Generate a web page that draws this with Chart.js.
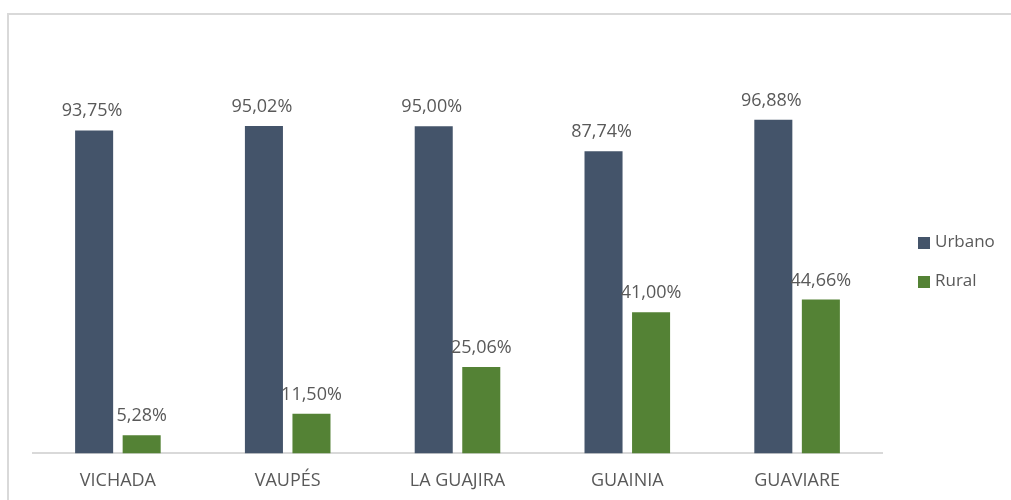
<!DOCTYPE html>
<html lang="es">
<head>
  <meta charset="UTF-8">
  <title>Urbano / Rural</title>
  <script src="https://cdn.jsdelivr.net/npm/chart.js"></script>
  <style>
    html, body {
      margin: 0;
      padding: 0;
      background: #fff;
      overflow: hidden;
    }
    .frame {
      position: absolute;
      left: 7px;
      top: 13px;
      width: 1020px;
      height: 520px;
      border: 2px solid #d9d9d9;
    }
    .wrap {
      position: absolute;
      left: 0;
      top: 0;
      width: 1011px;
      height: 500px;
      overflow: hidden;
    }
    #chart {
      display: block;
      width: 1011px;
      height: 509px;
    }
  </style>
</head>
<body>
  <div class="frame"></div>
  <div class="wrap"><canvas id="chart" width="1011" height="509"></canvas></div>

  <script>
    const departamentos = ['VICHADA', 'VAUPÉS', 'LA GUAJIRA', 'GUAINIA', 'GUAVIARE'];
    const urbano = [93.75, 95.02, 95.00, 87.74, 96.88];
    const rural = [5.28, 11.50, 25.06, 41.00, 44.66];
    const seriesNames = ['Urbano', 'Rural'];
    const seriesColors = ['#44546a', '#548235'];

    const fontFam = "'Open Sans', 'Liberation Sans', sans-serif";
    const textGray = '#595959';

    function fmt(v) {
      return v.toFixed(2).replace('.', ',') + '%';
    }

    // etiquetas encima de cada barra
    const valueLabels = {
      id: 'valueLabels',
      afterDatasetsDraw(chart) {
        const ctx = chart.ctx;
        ctx.save();
        ctx.font = '18px ' + fontFam;
        ctx.fillStyle = textGray;
        ctx.textAlign = 'center';
        ctx.textBaseline = 'alphabetic';
        chart.data.datasets.forEach((ds, i) => {
          chart.getDatasetMeta(i).data.forEach((bar, j) => {
            ctx.fillText(fmt(ds.data[j]), bar.x - (i === 0 ? 2 : 0), bar.y - 14);
          });
        });
        ctx.restore();
      }
    };

    // leyenda a la derecha
    const sideLegend = {
      id: 'sideLegend',
      afterDraw(chart) {
        const ctx = chart.ctx;
        ctx.save();
        ctx.font = '17px ' + fontFam;
        ctx.textBaseline = 'middle';
        ctx.textAlign = 'left';
        chart.data.datasets.forEach((ds, i) => {
          const y = 242 + i * 39;
          ctx.fillStyle = ds.backgroundColor;
          ctx.fillRect(918, y - 5, 12, 12);
          ctx.fillStyle = textGray;
          ctx.fillText(ds.label, 935, y);
        });
        ctx.restore();
      }
    };

    new Chart(document.getElementById('chart'), {
      type: 'bar',
      data: {
        labels: departamentos,
        datasets: [
          { label: seriesNames[0], data: urbano, backgroundColor: seriesColors[0] },
          { label: seriesNames[1], data: rural, backgroundColor: seriesColors[1] }
        ]
      },
      options: {
        responsive: false,
        animation: false,
        events: [],
        layout: { padding: { left: 33, right: 129, top: 40, bottom: 0 } },
        datasets: {
          bar: { categoryPercentage: 0.56, barPercentage: 0.8 }
        },
        plugins: {
          legend: { display: false },
          tooltip: { enabled: false }
        },
        scales: {
          x: {
            grid: { display: false, drawTicks: false },
            border: { display: true, color: '#d9d9d9', width: 2 },
            ticks: {
              color: textGray,
              font: { family: fontFam, size: 18 },
              padding: 17
            }
          },
          y: {
            display: false,
            min: 0,
            max: 120
          }
        }
      },
      plugins: [valueLabels, sideLegend]
    });
  </script>
</body>
</html>
